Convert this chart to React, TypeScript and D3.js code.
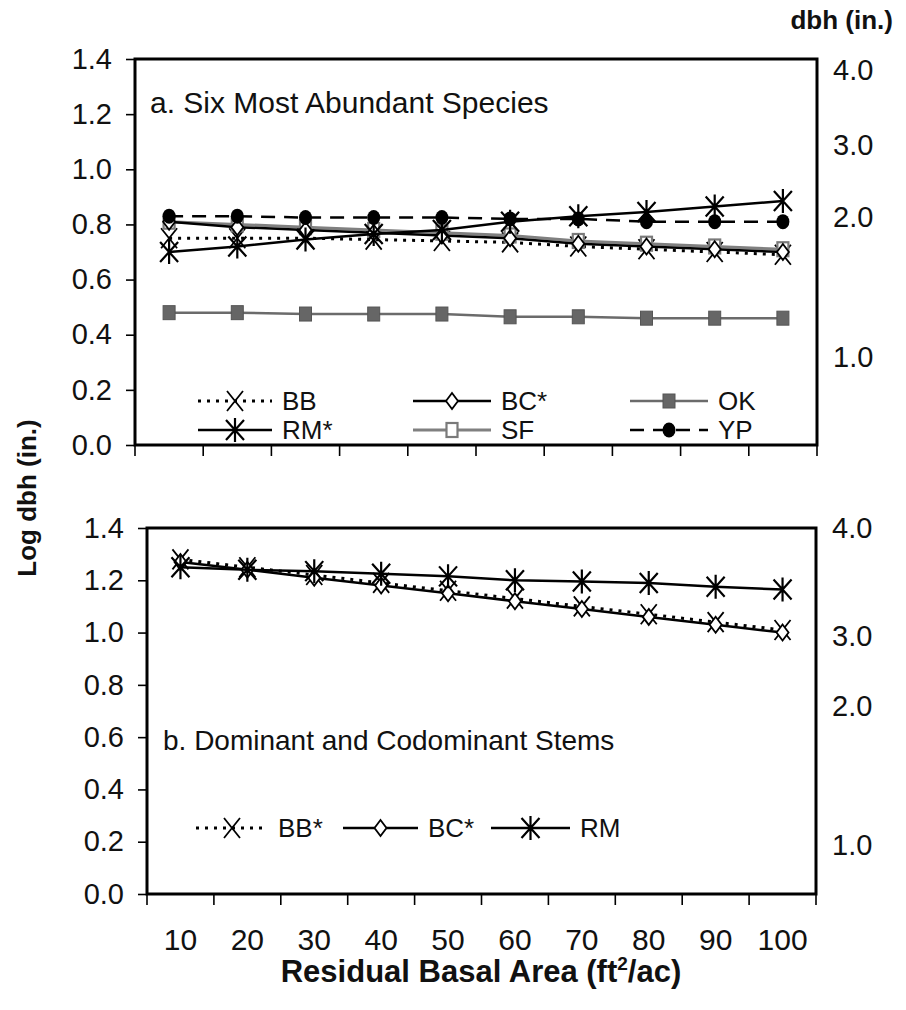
import React, { useRef, useEffect } from 'react';
import * as d3 from 'd3';

// residual basal area classes (ft2/ac)
const basalArea = [10, 20, 30, 40, 50, 60, 70, 80, 90, 100];

// panel a: six most abundant species, log dbh
const topBB = [0.75, 0.75, 0.75, 0.745, 0.74, 0.735, 0.72, 0.71, 0.70, 0.69];
const topBC = [0.81, 0.79, 0.78, 0.77, 0.76, 0.75, 0.73, 0.72, 0.71, 0.70];
const topOK = [0.48, 0.48, 0.475, 0.475, 0.475, 0.465, 0.465, 0.46, 0.46, 0.46];
const topRM = [0.70, 0.72, 0.745, 0.765, 0.78, 0.81, 0.83, 0.845, 0.865, 0.885];
const topSF = [0.81, 0.80, 0.79, 0.78, 0.77, 0.76, 0.74, 0.73, 0.72, 0.71];
const topYP = [0.83, 0.83, 0.825, 0.825, 0.825, 0.82, 0.82, 0.81, 0.81, 0.81];

// panel b: dominant and codominant stems
const botBB = [1.28, 1.25, 1.22, 1.19, 1.16, 1.13, 1.10, 1.07, 1.04, 1.01];
const botBC = [1.27, 1.24, 1.21, 1.18, 1.15, 1.12, 1.09, 1.06, 1.03, 1.00];
const botRM = [1.25, 1.24, 1.235, 1.225, 1.215, 1.20, 1.195, 1.19, 1.175, 1.165];

const leftTicks = [0, 0.2, 0.4, 0.6, 0.8, 1.0, 1.2, 1.4];
// right axis: dbh labels and the log-axis level they sit at
const dbhLabels = ['4.0', '3.0', '2.0', '1.0'];
const topDbhLevels = [1.36, 1.088, 0.83, 0.32];
const botDbhLevels = [1.4, 0.99, 0.72, 0.19];

const FONT = 'Arimo, "Liberation Sans", Arial, sans-serif';
const FS = 29;
const LEG_FS = 26;

type Series = { name: string; values: number[]; marker: string; color: string; dash: string; width: number };

const topSeries: Series[] = [
  { name: 'OK', values: topOK, marker: 'fsquare', color: '#6b6b6b', dash: '', width: 2.5 },
  { name: 'BB', values: topBB, marker: 'x', color: '#000', dash: '3,6', width: 3 },
  { name: 'SF', values: topSF, marker: 'osquare', color: '#808080', dash: '', width: 3 },
  { name: 'BC*', values: topBC, marker: 'diamond', color: '#000', dash: '', width: 2.5 },
  { name: 'YP', values: topYP, marker: 'circle', color: '#000', dash: '14,9', width: 2.5 },
  { name: 'RM*', values: topRM, marker: 'asterisk', color: '#000', dash: '', width: 2.5 },
];

const botSeries: Series[] = [
  { name: 'BB*', values: botBB, marker: 'x', color: '#000', dash: '3,6', width: 3 },
  { name: 'BC*', values: botBC, marker: 'diamond', color: '#000', dash: '', width: 2.5 },
  { name: 'RM', values: botRM, marker: 'asterisk', color: '#000', dash: '', width: 2.5 },
];

function drawMarker(g: any, kind: string, x: number, y: number, color: string) {
  if (kind === 'x') {
    const sx = 8, sy = 10;
    g.append('path').attr('d', `M${x - sx},${y - sy}L${x + sx},${y + sy}M${x - sx},${y + sy}L${x + sx},${y - sy}`)
      .attr('stroke', color).attr('stroke-width', 1.8).attr('fill', 'none');
  } else if (kind === 'asterisk') {
    const sx = 9, sy = 10;
    g.append('path').attr('d', `M${x - sx},${y - sy}L${x + sx},${y + sy}M${x - sx},${y + sy}L${x + sx},${y - sy}M${x},${y - sy - 2}L${x},${y + sy + 2}`)
      .attr('stroke', color).attr('stroke-width', 2.2).attr('fill', 'none');
  } else if (kind === 'diamond') {
    const sx = 6, sy = 8;
    g.append('path').attr('d', `M${x},${y - sy}L${x + sx},${y}L${x},${y + sy}L${x - sx},${y}Z`)
      .attr('stroke', color).attr('stroke-width', 1.8).attr('fill', '#fff');
  } else if (kind === 'fsquare') {
    g.append('rect').attr('x', x - 6).attr('y', y - 7).attr('width', 12).attr('height', 14)
      .attr('fill', '#666').attr('stroke', '#555').attr('stroke-width', 1);
  } else if (kind === 'osquare') {
    g.append('rect').attr('x', x - 5.5).attr('y', y - 7).attr('width', 11).attr('height', 14)
      .attr('fill', '#fff').attr('stroke', '#7a7a7a').attr('stroke-width', 2.2);
  } else if (kind === 'circle') {
    g.append('ellipse').attr('cx', x).attr('cy', y).attr('rx', 6.5).attr('ry', 7.5).attr('fill', '#000');
  }
}

function drawPanel(svg: any, box: { left: number; right: number; top: number; bottom: number },
  series: Series[], dbhLevels: number[], showXLabels: boolean) {
  const x = d3.scaleBand<number>().domain(basalArea).range([box.left, box.right]);
  const y = d3.scaleLinear().domain([0, 1.4]).range([box.bottom, box.top]);
  const g = svg.append('g');

  // left axis
  const ya = g.append('g').attr('transform', `translate(${box.left},0)`)
    .call(d3.axisLeft(y).tickValues(leftTicks).tickFormat(d3.format('.1f')).tickSize(9).tickPadding(14));
  ya.select('.domain').remove();
  ya.selectAll('line').attr('stroke', '#000').attr('stroke-width', 1.6);
  ya.selectAll('text').attr('font-family', FONT).attr('font-size', FS).attr('fill', '#111');

  // bottom ticks at category boundaries
  const edges = basalArea.map((d) => x(d) as number).concat([box.right]);
  g.selectAll('.xt').data(edges).enter().append('line')
    .attr('x1', (d: number) => d).attr('x2', (d: number) => d)
    .attr('y1', box.bottom).attr('y2', box.bottom + 11)
    .attr('stroke', '#000').attr('stroke-width', 1.6);

  if (showXLabels) {
    g.selectAll('.xl').data(basalArea).enter().append('text')
      .attr('x', (d: number) => (x(d) as number) + x.bandwidth() / 2)
      .attr('y', box.bottom + 56)
      .attr('text-anchor', 'middle').attr('font-family', FONT).attr('font-size', FS + 1).attr('fill', '#111')
      .text((d: number) => d);
  }

  // box
  g.append('rect').attr('x', box.left).attr('y', box.top)
    .attr('width', box.right - box.left).attr('height', box.bottom - box.top)
    .attr('fill', 'none').attr('stroke', '#000').attr('stroke-width', 3);

  // right axis labels
  g.selectAll('.rl').data(dbhLabels).enter().append('text')
    .attr('x', box.right + 16)
    .attr('y', (_d: string, i: number) => y(dbhLevels[i]))
    .attr('dy', '0.36em')
    .attr('font-family', FONT).attr('font-size', FS).attr('fill', '#111')
    .text((d: string) => d);

  const cx = (i: number) => (x(basalArea[i]) as number) + x.bandwidth() / 2;
  series.forEach((s) => {
    const line = d3.line<number>().x((_d, i) => cx(i)).y((d) => y(d));
    g.append('path').attr('d', line(s.values)).attr('fill', 'none')
      .attr('stroke', s.color).attr('stroke-width', s.width)
      .attr('stroke-dasharray', s.dash || null);
    s.values.forEach((v, i) => drawMarker(g, s.marker, cx(i), y(v), s.color));
  });
}

function drawLegendItem(svg: any, s: Series, x0: number, x1: number, yy: number) {
  const g = svg.append('g');
  g.append('line').attr('x1', x0).attr('x2', x1).attr('y1', yy).attr('y2', yy)
    .attr('stroke', s.color).attr('stroke-width', s.width).attr('stroke-dasharray', s.dash || null);
  drawMarker(g, s.marker, (x0 + x1) / 2, yy, s.color);
  g.append('text').attr('x', x1 + 10).attr('y', yy).attr('dy', '0.36em')
    .attr('font-family', FONT).attr('font-size', LEG_FS).attr('fill', '#111').text(s.name);
}

const App = () => {
  const svgRef = useRef<SVGSVGElement>(null);

  useEffect(() => {
    const svg = d3.select(svgRef.current);
    svg.selectAll('*').remove();

    drawPanel(svg, { left: 135, right: 817, top: 59, bottom: 445 }, topSeries, topDbhLevels, false);
    drawPanel(svg, { left: 147, right: 816, top: 528, bottom: 894 }, botSeries, botDbhLevels, true);

    svg.append('text').attr('x', 150).attr('y', 113)
      .attr('font-family', FONT).attr('font-size', 30).attr('fill', '#111')
      .text('a. Six Most Abundant Species');
    svg.append('text').attr('x', 163).attr('y', 750)
      .attr('font-family', FONT).attr('font-size', 28).attr('fill', '#111')
      .text('b. Dominant and Codominant Stems');

    const byName = (arr: Series[], n: string) => arr.find((s) => s.name === n) as Series;
    const cols = [[198, 272], [413, 491], [630, 708]];
    const rows = [401, 430];
    [['BB', 'BC*', 'OK'], ['RM*', 'SF', 'YP']].forEach((row, r) => {
      row.forEach((n, c) => drawLegendItem(svg, byName(topSeries, n), cols[c][0], cols[c][1], rows[r]));
    });
    const bcols = [[196, 268], [343, 418], [491, 570]];
    botSeries.forEach((s, i) => drawLegendItem(svg, s, bcols[i][0], bcols[i][1], 828));

    svg.append('text').attr('transform', 'translate(36,498) rotate(-90)')
      .attr('text-anchor', 'middle').attr('font-family', FONT).attr('font-weight', 'bold')
      .attr('font-size', 26).attr('fill', '#111').text('Log dbh (in.)');

    const xt = svg.append('text').attr('x', 481).attr('y', 982)
      .attr('text-anchor', 'middle').attr('font-family', FONT).attr('font-weight', 'bold')
      .attr('font-size', 31).attr('fill', '#111');
    xt.append('tspan').text('Residual Basal Area (ft');
    xt.append('tspan').attr('font-size', 19).attr('dy', -12).text('2');
    xt.append('tspan').attr('dy', 12).text('/ac)');

    svg.append('text').attr('x', 893).attr('y', 29)
      .attr('text-anchor', 'end').attr('font-family', FONT).attr('font-weight', 'bold')
      .attr('font-size', 26).attr('fill', '#111').text('dbh (in.)');
  }, []);

  return (
    <svg ref={svgRef} width={906} height={1010}
      style={{ position: 'absolute', left: 0, top: 0, background: '#fff' }} />
  );
};

export default App;
